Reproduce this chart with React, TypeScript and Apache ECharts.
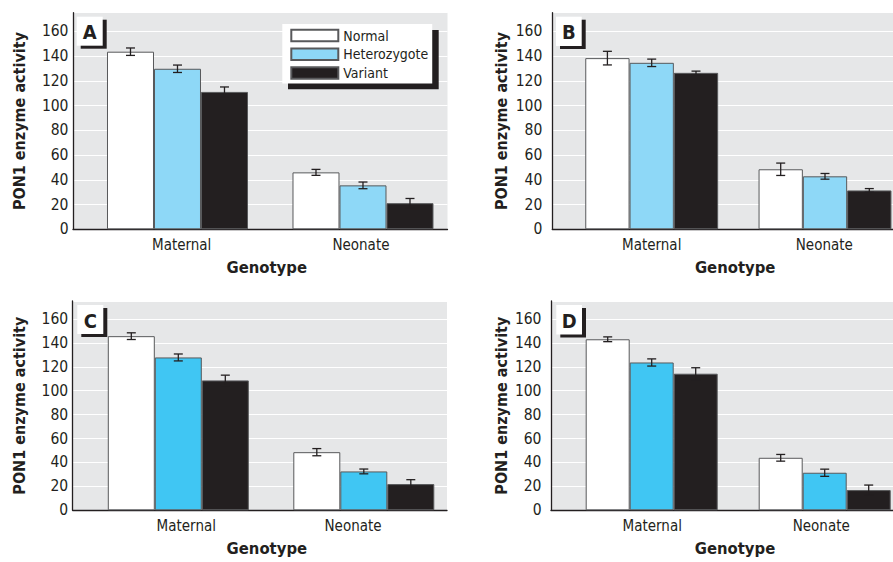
import React, { useEffect, useRef } from 'react';
import * as echarts from 'echarts';

const categories = ['Maternal', 'Neonate'];
const genotypes = ['Normal', 'Heterozygote', 'Variant'];
const yTickValues = [0, 20, 40, 60, 80, 100, 120, 140, 160];

// Panel A
const aNormal = [143.5, 46.0];
const aNormalErr = [3.0, 2.4];
const aHetero = [129.7, 35.5];
const aHeteroErr = [3.0, 2.7];
const aVariant = [111.0, 21.1];
const aVariantErr = [4.0, 3.8];

// Panel B
const bNormal = [138.3, 48.5];
const bNormalErr = [5.5, 5.0];
const bHetero = [134.5, 42.8];
const bHeteroErr = [3.0, 2.3];
const bVariant = [126.4, 31.4];
const bVariantErr = [1.4, 1.5];

// Panel C
const cNormal = [145.6, 48.6];
const cNormalErr = [2.8, 3.0];
const cHetero = [127.8, 32.5];
const cHeteroErr = [2.9, 2.0];
const cVariant = [108.6, 21.9];
const cVariantErr = [4.4, 3.7];

// Panel D
const dNormal = [143.0, 43.9];
const dNormalErr = [2.0, 2.8];
const dHetero = [123.6, 31.4];
const dHeteroErr = [3.0, 3.0];
const dVariant = [114.2, 16.9];
const dVariantErr = [5.0, 4.2];

const FONT = "'DejaVu Sans Condensed', 'Liberation Sans Narrow', sans-serif";
const INK = '#231F20';
const BORDER = '#58595B';

const panels = [
  {
    letter: 'A', means: [aNormal, aHetero, aVariant], errs: [aNormalErr, aHeteroErr, aVariantErr],
    left: 73, top: 12.7, width: 374.5, height: 216.6, xMin: 0.4367, xMax: 2.4556, barW: 47,
    labelPos: [1.0226, 1.989], tickMargin: 4.5, yNameGap: 45.5, xNamePad: 13,
    blue: '#8ED8F7', box: [76.7, 16.7, 26, 29],
  },
  {
    letter: 'B', means: [bNormal, bHetero, bVariant], errs: [bNormalErr, bHeteroErr, bVariantErr],
    left: 552.3, top: 12.7, width: 340.7, height: 216.6, xMin: 0.4264, xMax: 2.3924, barW: 44.3,
    labelPos: [1.0, 1.996], tickMargin: 10, yNameGap: 42.5, xNamePad: 25,
    blue: '#8ED8F7', box: [556, 16.7, 25.7, 29.3],
  },
  {
    letter: 'C', means: [cNormal, cHetero, cVariant], errs: [cNormalErr, cHeteroErr, cVariantErr],
    left: 72.7, top: 301, width: 374.3, height: 209.3, xMin: 0.4307, xMax: 2.4485, barW: 47,
    labelPos: [1.043, 1.942], tickMargin: 4.5, yNameGap: 45.5, xNamePad: 14,
    blue: '#40C6F3', box: [77.3, 305, 26, 29],
  },
  {
    letter: 'D', means: [dNormal, dHetero, dVariant], errs: [dNormalErr, dHeteroErr, dVariantErr],
    left: 551, top: 301, width: 342, height: 209.3, xMin: 0.4179, xMax: 2.3948, barW: 44,
    labelPos: [1.003, 1.98], tickMargin: 9.5, yNameGap: 41.5, xNamePad: 26,
    blue: '#40C6F3', box: [556.3, 305, 25.7, 29.5],
  },
];

function buildOption() {
  const grid: any[] = [];
  const xAxis: any[] = [];
  const yAxis: any[] = [];
  const series: any[] = [];
  const graphic: any[] = [];

  panels.forEach((p, pi) => {
    grid.push({
      left: p.left, top: p.top, width: p.width, height: p.height,
      show: true, backgroundColor: '#E6E7E8', borderWidth: 0, containLabel: false,
      outerBoundsMode: 'none',
    });
    xAxis.push({
      type: 'value', gridIndex: pi, min: p.xMin, max: p.xMax,
      axisLine: { show: true, onZero: false, lineStyle: { color: INK, width: 1.3 } },
      axisTick: { show: false },
      splitLine: { show: false },
      axisLabel: {
        customValues: p.labelPos,
        formatter: (v: number) => categories[Math.round(v) - 1] ?? '',
        fontSize: 15, color: INK, fontFamily: FONT, margin: 8,
      },
      name: 'Genotype', nameLocation: 'middle', nameGap: 30,
      nameTextStyle: { fontSize: 16.5, fontWeight: 'bold', color: INK, fontFamily: FONT, padding: [0, 0, 0, p.xNamePad] },
    });
    yAxis.push({
      type: 'value', gridIndex: pi, min: 0, max: 175, interval: 20,
      axisLine: { show: true, onZero: false, lineStyle: { color: INK, width: 1.3 } },
      axisTick: { show: false },
      splitLine: { show: true, lineStyle: { color: '#FFFFFF', width: 1.2 } },
      axisLabel: { customValues: yTickValues, fontSize: 15.5, color: INK, fontFamily: FONT, margin: p.tickMargin },
      name: 'PON1 enzyme activity', nameLocation: 'middle', nameGap: p.yNameGap,
      nameTextStyle: { fontSize: 16, fontWeight: 'bold', color: INK, fontFamily: FONT },
    });
    const colors = ['#FFFFFF', p.blue, INK];
    genotypes.forEach((g, gi) => {
      series.push({
        type: 'bar', name: g, xAxisIndex: pi, yAxisIndex: pi,
        barWidth: p.barW, barGap: '0%',
        data: p.means[gi].map((v, i) => [i + 1, v]),
        itemStyle: { color: colors[gi], borderColor: BORDER, borderWidth: 1 },
        z: 2,
      });
    });
    const errData: number[][] = [];
    genotypes.forEach((_, gi) => {
      p.means[gi].forEach((m, i) => errData.push([i + 1, m, p.errs[gi][i], gi]));
    });
    const bw = p.barW;
    series.push({
      type: 'custom', xAxisIndex: pi, yAxisIndex: pi, z: 4, silent: true,
      encode: { x: 0, y: 1 },
      data: errData,
      renderItem: (params: any, api: any) => {
        const x = api.value(0), m = api.value(1), e = api.value(2), g = api.value(3);
        const top = api.coord([x, m + e]);
        const bot = api.coord([x, m - e]);
        const cx = top[0] + (g - 1) * bw;
        const hw = 4.5;
        const st = { stroke: INK, lineWidth: 1.3 };
        return {
          type: 'group',
          children: [
            { type: 'line', shape: { x1: cx, y1: top[1], x2: cx, y2: bot[1] }, style: st },
            { type: 'line', shape: { x1: cx - hw, y1: top[1], x2: cx + hw, y2: top[1] }, style: st },
            { type: 'line', shape: { x1: cx - hw, y1: bot[1], x2: cx + hw, y2: bot[1] }, style: st },
          ],
        };
      },
    });
    const [bx, by, bwid, bh] = p.box;
    graphic.push({
      type: 'rect', z: 10, shape: { x: bx + 4, y: by + 3, width: bwid, height: bh }, style: { fill: INK },
    });
    graphic.push({
      type: 'rect', z: 11, shape: { x: bx, y: by, width: bwid, height: bh }, style: { fill: '#FFFFFF' },
    });
    graphic.push({
      type: 'text', z: 12, x: bx + bwid / 2, y: by + bh / 2 + 1,
      style: { text: p.letter, fill: INK, font: `bold 20px ${FONT}`, align: 'center', verticalAlign: 'middle' },
    });
  });

  // legend shadow
  graphic.push({
    type: 'rect', z: 5, shape: { x: 288, y: 30, width: 150.7, height: 59.3 }, style: { fill: INK },
  });

  return {
    animation: false,
    backgroundColor: '#FFFFFF',
    textStyle: { fontFamily: FONT },
    grid, xAxis, yAxis, series, graphic,
    legend: {
      data: genotypes, orient: 'vertical', left: 282.3, top: 24,
      itemWidth: 47, itemHeight: 11.5, itemGap: 1.8, padding: [3, 4, 2, 8],
      backgroundColor: '#FFFFFF', icon: 'rect', selectedMode: false, z: 6,
      textStyle: { fontSize: 14, color: INK, fontFamily: FONT, lineHeight: 17 },
    },
  };
}

export default function App() {
  const ref = useRef<HTMLDivElement>(null);
  useEffect(() => {
    if (!ref.current) return;
    const chart = echarts.init(ref.current, undefined, { renderer: 'svg' });
    chart.setOption(buildOption() as any);
    return () => chart.dispose();
  }, []);
  return (
    <div
      ref={ref}
      style={{ position: 'fixed', left: 0, top: 0, width: 893, height: 562, background: '#fff' }}
    />
  );
}
